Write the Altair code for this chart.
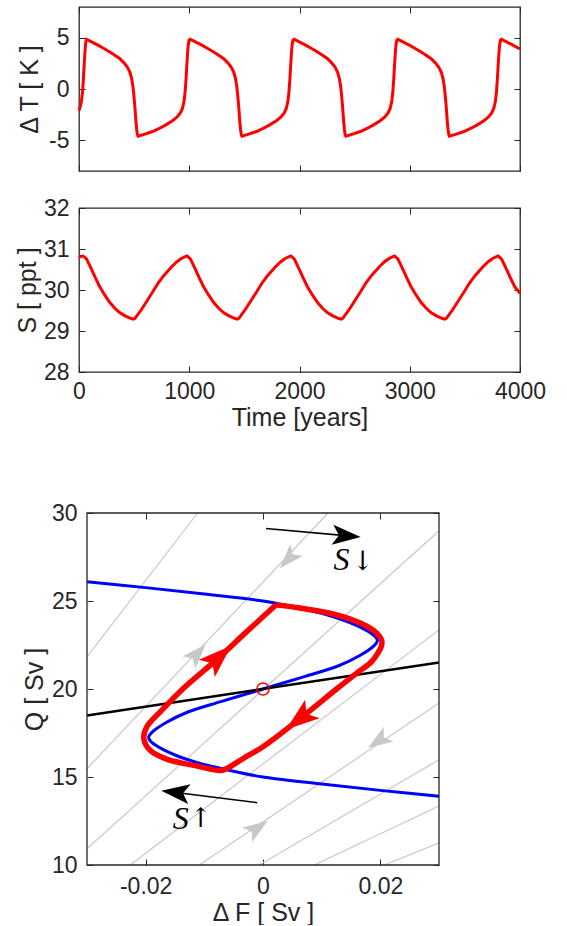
import altair as alt
import pandas as pd

FONT = "Liberation Sans"
INK = "#262626"

# ---------------- Time series ----------------
dT_t = [0, 12, 22, 32, 40, 47, 54, 60, 64,
        68, 118, 168, 218, 268, 318, 368, 408, 438, 463, 478, 490, 500, 508, 516, 524, 530, 536,
        598, 668, 728, 788, 848, 888, 918, 938, 953, 963, 971, 978, 985, 991, 998,
        1010, 1060, 1110, 1160, 1210, 1260, 1310, 1350, 1380, 1405, 1420, 1432, 1442, 1450, 1458, 1466, 1472, 1478,
        1540, 1610, 1670, 1730, 1790, 1830, 1860, 1880, 1895, 1905, 1913, 1920, 1927, 1933, 1940,
        1952, 2002, 2052, 2102, 2152, 2202, 2252, 2292, 2322, 2347, 2362, 2374, 2384, 2392, 2400, 2408, 2414, 2420,
        2482, 2552, 2612, 2672, 2732, 2772, 2802, 2822, 2837, 2847, 2855, 2862, 2869, 2875, 2882,
        2892, 2942, 2992, 3042, 3092, 3142, 3192, 3232, 3262, 3287, 3302, 3314, 3324, 3332, 3340, 3348, 3354, 3360,
        3422, 3492, 3552, 3612, 3672, 3712, 3742, 3762, 3777, 3787, 3795, 3802, 3809, 3815, 3822,
        3832, 3882, 3932, 3982, 4000]
dT_v = [-2.1, -1.7, -1.2, -0.3, 1.0, 2.4, 3.6, 4.4, 4.75,
        4.85, 4.57, 4.3, 4.0, 3.68, 3.35, 2.98, 2.55, 2.15, 1.6, 1.0, 0.2, -0.9, -1.9, -3.1, -4.0, -4.45, -4.6,
        -4.4, -4.15, -3.85, -3.5, -3.1, -2.75, -2.35, -1.9, -1.2, -0.2, 1.0, 2.3, 3.5, 4.3, 4.75,
        4.85, 4.57, 4.3, 4.0, 3.68, 3.35, 2.98, 2.55, 2.15, 1.6, 1.0, 0.2, -0.9, -1.9, -3.1, -4.0, -4.45, -4.6,
        -4.4, -4.15, -3.85, -3.5, -3.1, -2.75, -2.35, -1.9, -1.2, -0.2, 1.0, 2.3, 3.5, 4.3, 4.75,
        4.85, 4.57, 4.3, 4.0, 3.68, 3.35, 2.98, 2.55, 2.15, 1.6, 1.0, 0.2, -0.9, -1.9, -3.1, -4.0, -4.45, -4.6,
        -4.4, -4.15, -3.85, -3.5, -3.1, -2.75, -2.35, -1.9, -1.2, -0.2, 1.0, 2.3, 3.5, 4.3, 4.75,
        4.85, 4.57, 4.3, 4.0, 3.68, 3.35, 2.98, 2.55, 2.15, 1.6, 1.0, 0.2, -0.9, -1.9, -3.1, -4.0, -4.45, -4.6,
        -4.4, -4.15, -3.85, -3.5, -3.1, -2.75, -2.35, -1.9, -1.2, -0.2, 1.0, 2.3, 3.5, 4.3, 4.75,
        4.85, 4.57, 4.3, 4.0, 3.92]

S_t = [0, 15, 38, 68, 88, 118, 148, 188, 233, 278, 323, 368, 418, 468, 493, 508, 528, 568, 613, 668, 718, 768,
       838, 888, 928, 958, 980,
       1010, 1030, 1060, 1090, 1130, 1175, 1220, 1265, 1310, 1360, 1410, 1435, 1450, 1470, 1510, 1555, 1610,
       1660, 1710, 1780, 1830, 1870, 1900, 1922,
       1952, 1972, 2002, 2032, 2072, 2117, 2162, 2207, 2252, 2302, 2352, 2377, 2392, 2412, 2452, 2497, 2552,
       2602, 2652, 2722, 2772, 2812, 2842, 2862,
       2892, 2912, 2942, 2972, 3012, 3057, 3102, 3147, 3192, 3242, 3292, 3317, 3332, 3352, 3392, 3437, 3492,
       3542, 3592, 3662, 3712, 3752, 3782, 3802,
       3832, 3852, 3882, 3912, 3952, 4000]
S_v = [30.79, 30.82, 30.83, 30.76, 30.65, 30.48, 30.30, 30.08, 29.88, 29.70, 29.56, 29.45, 29.37, 29.31, 29.29,
       29.31, 29.38, 29.53, 29.72, 29.95, 30.17, 30.35, 30.56, 30.69, 30.77, 30.81, 30.83,
       30.76, 30.65, 30.48, 30.30, 30.08, 29.88, 29.70, 29.56, 29.45, 29.37, 29.31, 29.29, 29.31, 29.38, 29.53,
       29.72, 29.95, 30.17, 30.35, 30.56, 30.69, 30.77, 30.81, 30.83,
       30.76, 30.65, 30.48, 30.30, 30.08, 29.88, 29.70, 29.56, 29.45, 29.37, 29.31, 29.29, 29.31, 29.38, 29.53,
       29.72, 29.95, 30.17, 30.35, 30.56, 30.69, 30.77, 30.81, 30.83,
       30.76, 30.65, 30.48, 30.30, 30.08, 29.88, 29.70, 29.56, 29.45, 29.37, 29.31, 29.29, 29.31, 29.38, 29.53,
       29.72, 29.95, 30.17, 30.35, 30.56, 30.69, 30.77, 30.81, 30.83,
       30.76, 30.65, 30.48, 30.30, 30.08, 29.92]

# ---------------- Phase plane ----------------
blue_dF = [-0.0300, -0.0200, -0.0100, 0.0000, 0.0060, 0.0110, 0.0150, 0.0178, 0.0192, 0.0195, 0.0189,
           0.0165, 0.0129, 0.0072, 0.0000, -0.0072, -0.0129, -0.0165, -0.0189, -0.0195, -0.0192, -0.0178,
           -0.0150, -0.0110, -0.0060, 0.0000, 0.0100, 0.0200, 0.0300]
blue_Q = [26.09, 25.76, 25.40, 25.00, 24.60, 24.20, 23.75, 23.30, 22.95, 22.75, 22.45,
          21.90, 21.32, 20.72, 20.00, 19.28, 18.68, 18.10, 17.55, 17.25, 17.05, 16.70,
          16.25, 15.80, 15.40, 15.00, 14.60, 14.24, 13.91]

red_dF = [0.0022, 0.0060, 0.0110, 0.0150, 0.0177, 0.0194, 0.0202, 0.0202, 0.0196, 0.0185, 0.0164, 0.0128,
          0.0065, 0.0000, -0.0032, -0.0060, -0.0072, -0.0112, -0.0163, -0.0192, -0.0203, -0.0198, -0.0174,
          -0.0135, -0.0080, -0.0030, 0.0005, 0.0022]
red_Q = [24.78, 24.62, 24.33, 23.96, 23.57, 23.17, 22.80, 22.45, 22.05, 21.55, 21.01, 20.07,
         18.37, 16.72, 16.09, 15.52, 15.37, 15.62, 16.00, 16.50, 17.15, 17.85, 18.74,
         20.06, 21.64, 23.19, 24.26, 24.78]

black_dF = [-0.03, 0.03]
black_Q = [18.5, 21.5]

gray_id = [1, 1, 2, 2, 3, 3, 4, 4, 5, 5, 6, 6, 7, 7, 8, 8]
gray_dF = [-0.030, -0.01115, -0.030, 0.01108, -0.030, 0.030, -0.02263, 0.030,
           -0.01086, 0.030, -0.00063, 0.030, 0.00875, 0.030, 0.02068, 0.030]
gray_Q = [21.83, 30.0, 15.47, 30.0, 10.92, 28.99, 10.0, 23.36,
          10.0, 19.21, 10.0, 15.98, 10.0, 13.35, 10.0, 11.26]

gray_head_dF = [-0.0114, 0.0045, 0.0199, -0.0012]
gray_head_Q = [21.95, 27.45, 17.10, 12.05]
gray_head_ang = [43, 223, 236, 56]

red_head_dF = [-0.0078, 0.0065]
red_head_Q = [21.72, 18.36]
red_head_ang = [47, 232]

karrow_id = [1, 1, 2, 2]
karrow_dF = [0.0005, 0.0155, -0.0010, -0.0162]
karrow_Q = [29.12, 28.67, 13.54, 14.18]
khead_dF = [0.0139, -0.0146]
khead_Q = [28.71, 14.11]
khead_ang = [95, 277]

S_lab_dF = [0.0134, -0.0140]
S_lab_Q = [27.33, 12.60]
arr_lab_dF = [0.0170, -0.0106]
arr_lab_Q = [27.24, 12.59]
arr_lab_txt = ["\u2193", "\u2191"]

fixed_dF = [0.0]
fixed_Q = [20.0]

# frame of the phase-plane panel = its axis limits
frame_dF = [-0.03]
frame_dF2 = [0.03]
frame_Q = [10]
frame_Q2 = [30]

ARROW = "M0,-1L0.62,0.75L0,0.35L-0.62,0.75Z"


def ax(orient, values, labels=True, title=None, label_pad=10, title_pad=4, expr=None, fmt=None, offset=-6):
    kw = dict(orient=orient, values=values, labels=labels, domain=False, ticks=True,
              tickSize=6, offset=offset, tickColor=INK, tickWidth=1, labelPadding=label_pad,
              titlePadding=title_pad, grid=False, labelFlush=False, labelOverlap=False,
              title=title)
    if expr is not None:
        kw["labelExpr"] = expr
    if fmt is not None:
        kw["format"] = fmt
    return alt.Axis(**kw)


NEG = "datum.value < 0 ? '-' + abs(datum.value) : '' + datum.value"
NEG2 = "datum.value == 0 ? '0' : (datum.value < 0 ? '-' : '') + format(abs(datum.value), '.2f')"

# ---------------- Top panel: Delta T ----------------
tx = alt.Scale(domain=[0, 4000], nice=False, zero=False)
ty = alt.Scale(domain=[-8, 8], nice=False, zero=False)
tvals = [0, 1000, 2000, 3000, 4000]
df_T = pd.DataFrame({"t": dT_t, "v": dT_v})
baseT = alt.Chart(df_T)
lineT = baseT.mark_line(color="#ff0000", strokeWidth=3).encode(
    x=alt.X("t:Q", scale=tx, axis=ax("bottom", tvals, labels=False)),
    y=alt.Y("v:Q", scale=ty, axis=ax("left", [-5, 0, 5], title="\u0394 T [ K ]", title_pad=6, expr=NEG)),
)
mirT = baseT.mark_line(opacity=0).encode(
    x=alt.X("t:Q", scale=tx, axis=ax("top", tvals, labels=False)),
    y=alt.Y("v:Q", scale=ty, axis=ax("right", [-5, 0, 5], labels=False)),
)
top = alt.layer(lineT, mirT).resolve_axis(x="independent", y="independent").properties(width=441, height=164)

# ---------------- Middle panel: S ----------------
sy = alt.Scale(domain=[28, 32], nice=False, zero=False)
svals = [28, 29, 30, 31, 32]
df_S = pd.DataFrame({"t": S_t, "v": S_v})
baseS = alt.Chart(df_S)
lineS = baseS.mark_line(color="#ff0000", strokeWidth=3).encode(
    x=alt.X("t:Q", scale=tx, axis=ax("bottom", tvals, title="Time [years]", label_pad=8, title_pad=2, fmt="d")),
    y=alt.Y("v:Q", scale=sy, axis=ax("left", svals, title="S [ ppt ]", title_pad=3)),
)
mirS = baseS.mark_line(opacity=0).encode(
    x=alt.X("t:Q", scale=tx, axis=ax("top", tvals, labels=False)),
    y=alt.Y("v:Q", scale=sy, axis=ax("right", svals, labels=False)),
)
mid = alt.layer(lineS, mirS).resolve_axis(x="independent", y="independent").properties(width=441, height=164)

# ---------------- Bottom panel: phase plane ----------------
SHIFT = 8
BW = 352
bx = alt.Scale(domain=[-0.03, 0.03], nice=False, zero=False, range=[SHIFT, SHIFT + BW])
by = alt.Scale(domain=[10, 30], nice=False, zero=False)
bxv = [-0.02, 0, 0.02]
byv = [10, 15, 20, 25, 30]


def X(axis=None, field="dF"):
    return alt.X(field + ":Q", scale=bx, axis=axis)


def Y(axis=None, field="Q"):
    return alt.Y(field + ":Q", scale=by, axis=axis)


df_gray = pd.DataFrame({"id": gray_id, "dF": gray_dF, "Q": gray_Q})
df_gh = pd.DataFrame({"dF": gray_head_dF, "Q": gray_head_Q, "ang": gray_head_ang})
df_blue = pd.DataFrame({"dF": blue_dF, "Q": blue_Q, "k": list(range(len(blue_dF)))})
df_black = pd.DataFrame({"dF": black_dF, "Q": black_Q})
df_red = pd.DataFrame({"dF": red_dF, "Q": red_Q, "k": list(range(len(red_dF)))})
df_rh = pd.DataFrame({"dF": red_head_dF, "Q": red_head_Q, "ang": red_head_ang})
df_fix = pd.DataFrame({"dF": fixed_dF, "Q": fixed_Q})
df_ka = pd.DataFrame({"id": karrow_id, "dF": karrow_dF, "Q": karrow_Q})
df_kh = pd.DataFrame({"dF": khead_dF, "Q": khead_Q, "ang": khead_ang})
df_Slab = pd.DataFrame({"dF": S_lab_dF, "Q": S_lab_Q})
df_alab = pd.DataFrame({"dF": arr_lab_dF, "Q": arr_lab_Q, "txt": arr_lab_txt})
df_frame = pd.DataFrame({"dF": frame_dF, "dF2": frame_dF2, "Q": frame_Q, "Q2": frame_Q2})

gray = alt.Chart(df_gray).mark_line(color="#c8c8c8", strokeWidth=1.2).encode(
    x=X(ax("bottom", bxv, title="\u0394 F [ Sv ]", label_pad=10, title_pad=2, expr=NEG2)),
    y=Y(ax("left", byv, title="Q [ Sv ]", title_pad=4, offset=-6 - SHIFT)),
    detail="id:N",
)
mirB = alt.Chart(df_black).mark_line(opacity=0).encode(
    x=X(ax("top", bxv, labels=False)),
    y=Y(ax("right", byv, labels=False)),
)
frame = alt.Chart(df_frame).mark_rect(fill="transparent", stroke=INK, strokeWidth=1.3).encode(
    x=X(), x2=alt.X2("dF2"), y=Y(), y2=alt.Y2("Q2"))
gheads = alt.Chart(df_gh).mark_point(shape=ARROW, filled=True, color="#c8c8c8", size=800, opacity=1).encode(
    x=X(), y=Y(), angle=alt.Angle("ang:Q", scale=None))
blue = alt.Chart(df_blue).mark_line(color="#0000ff", strokeWidth=3, interpolate="catmull-rom").encode(
    x=X(), y=Y(), order="k:Q")
black = alt.Chart(df_black).mark_line(color="#000000", strokeWidth=2.5).encode(x=X(), y=Y())
red = alt.Chart(df_red).mark_line(color="#ff0000", strokeWidth=5.5, interpolate="catmull-rom",
                                  strokeJoin="round").encode(x=X(), y=Y(), order="k:Q")
rheads = alt.Chart(df_rh).mark_point(shape=ARROW, filled=True, color="#ff0000", size=1450, opacity=1).encode(
    x=X(), y=Y(), angle=alt.Angle("ang:Q", scale=None))
fix = alt.Chart(df_fix).mark_point(shape="circle", filled=False, color="#ff0000", size=150,
                                   strokeWidth=1.5, opacity=1).encode(x=X(), y=Y())
karrows = alt.Chart(df_ka).mark_line(color="#000000", strokeWidth=1.6).encode(x=X(), y=Y(), detail="id:N")
kheads = alt.Chart(df_kh).mark_point(shape=ARROW, filled=True, color="#000000", size=1050, opacity=1).encode(
    x=X(), y=Y(), angle=alt.Angle("ang:Q", scale=None))
slab = alt.Chart(df_Slab).mark_text(font="Liberation Serif", fontStyle="italic", fontSize=32,
                                    color="#000000", align="center", baseline="middle").encode(
    x=X(), y=Y(), text=alt.value("S"))
alab = alt.Chart(df_alab).mark_text(font="DejaVu Serif", fontSize=27, color="#000000",
                                    align="center", baseline="middle").encode(x=X(), y=Y(), text="txt:N")

bottom = alt.layer(gray, mirB, gheads, blue, black, red, rheads, fix, karrows, kheads, slab, alab, frame
                   ).resolve_axis(x="independent", y="independent").properties(
    width=SHIFT + BW, height=352, view=alt.ViewBackground(strokeOpacity=0))

chart = alt.vconcat(
    alt.vconcat(top, mid, spacing=23),
    bottom,
    spacing=71,
).properties(padding={"left": 14, "top": 5, "right": 5, "bottom": 0}).configure_view(
    stroke=INK, strokeWidth=1.3
).configure_axis(
    labelFont=FONT, titleFont=FONT, labelFontSize=23, titleFontSize=25,
    labelColor=INK, titleColor=INK, titleFontWeight="normal", grid=False
)

chart.save("out.html", embed_options={"renderer": "svg", "actions": False})
